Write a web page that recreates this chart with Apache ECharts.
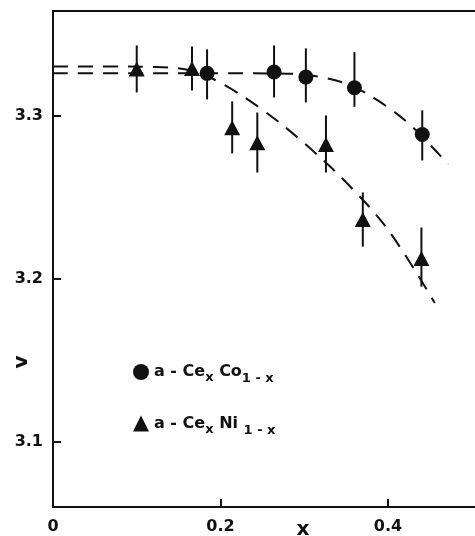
<!DOCTYPE html>
<html>
<head>
<meta charset="utf-8">
<script src="https://cdn.jsdelivr.net/npm/echarts@6/dist/echarts.min.js"></script>
<style>
html,body{margin:0;padding:0;background:#fff;}
#chart{width:475px;height:536px;}
</style>
</head>
<body>
<div id="chart"></div>
<script>
// ---- data ----
var coX   = [0.184, 0.264, 0.302, 0.360, 0.441];
var coV   = [3.3258, 3.3266, 3.3235, 3.3170, 3.2883];
var coTop = [3.3405, 3.3429, 3.3411, 3.3388, 3.3031];
var coBot = [3.3098, 3.3110, 3.3080, 3.3053, 3.2724];

var niX   = [0.100, 0.166, 0.214, 0.244, 0.326, 0.370, 0.440];
var niV   = [3.3285, 3.3287, 3.2924, 3.2833, 3.2822, 3.2362, 3.2123];
var niTop = [3.3429, 3.3423, 3.3086, 3.3018, 3.3000, 3.2528, 3.2313];
var niBot = [3.3141, 3.3153, 3.2767, 3.2650, 3.2650, 3.2196, 3.1951];

// dashed guide curves (points traced along the drawn dashes)
var coCurveX = [0, 0.10, 0.20, 0.28, 0.32, 0.358, 0.398, 0.430, 0.472];
var coCurveV = [3.3258, 3.3258, 3.3258, 3.3256, 3.3235, 3.3178, 3.3057, 3.2926, 3.2700];
var niCurveX = [0, 0.06, 0.12, 0.165, 0.200, 0.250, 0.300, 0.350, 0.400, 0.456];
var niCurveV = [3.3300, 3.3300, 3.3297, 3.3275, 3.3200, 3.3035, 3.2830, 3.2590, 3.2300, 3.1850];

var xTickValues = [0, 0.2, 0.4];
var xTickLabels = ['0', '0.2', '0.4'];
var yTickValues = [3.1, 3.2, 3.3];
var yTickLabels = ['3.1', '3.2', '3.3'];

var xName = 'x';
var yName = 'v';
var seriesNames = ['Co', 'Ni'];

// ---- chart ----
var INK = '#111';
var FONT = 'DejaVu Sans';

function zip(a, b) { return a.map(function (v, i) { return [v, b[i]]; }); }
function bars(x, lo, hi) { return x.map(function (v, i) { return [v, lo[i], hi[i]]; }); }

function errRender(params, api) {
  var p1 = api.coord([api.value(0), api.value(2)]);
  var p2 = api.coord([api.value(0), api.value(1)]);
  return {
    type: 'line',
    shape: { x1: p1[0], y1: p1[1], x2: p2[0], y2: p2[1] },
    style: { stroke: INK, lineWidth: 2 }
  };
}

var richStyles = {
  m: { fontFamily: FONT, fontWeight: 'bold', fontSize: 16, color: INK },
  s: { fontFamily: FONT, fontWeight: 'bold', fontSize: 13, color: INK, padding: [12, 0, 0, 0] },
  s2: { fontFamily: FONT, fontWeight: 'bold', fontSize: 13, color: INK, padding: [14, 0, 0, 0] }
};

var chart = echarts.init(document.getElementById('chart'), null, { renderer: 'canvas' });
chart.setOption({
  backgroundColor: '#fff',
  animation: false,
  grid: { left: 53, right: 0, top: 11, bottom: 29 },
  legend: {
    data: seriesNames,
    orient: 'vertical',
    left: 128,
    top: 359,
    itemWidth: 16,
    itemHeight: 16,
    itemGap: 30,
    selectedMode: false,
    formatter: function (name) {
      return name === 'Co'
        ? '{m|a - Ce}{s|x}{m| Co}{s2|1 - x}'
        : '{m|a - Ce}{s|x}{m| Ni }{s2|1 - x}';
    },
    textStyle: { rich: richStyles }
  },
  xAxis: [{
    type: 'value', min: 0, max: 0.504, position: 'bottom',
    axisLine: { show: true, lineStyle: { color: INK, width: 2 } },
    axisTick: { show: true, inside: true, length: 8, lineStyle: { color: INK, width: 2 }, customValues: xTickValues.slice(1) },
    axisLabel: {
      show: true, margin: 12, color: INK, fontFamily: FONT, fontWeight: 'bold', fontSize: 16,
      customValues: xTickValues,
      formatter: function (v) { var i = xTickValues.indexOf(v); return i >= 0 ? xTickLabels[i] : ''; }
    },
    splitLine: { show: false }
  }, {
    type: 'value', min: 0, max: 0.504, position: 'top',
    axisLine: { show: true, lineStyle: { color: INK, width: 2 } },
    axisTick: { show: false }, axisLabel: { show: false }, splitLine: { show: false }
  }],
  yAxis: {
    type: 'value', min: 3.06, max: 3.364,
    axisLine: { show: true, lineStyle: { color: INK, width: 2 } },
    axisTick: { show: true, inside: true, length: 8, lineStyle: { color: INK, width: 2 }, customValues: yTickValues },
    axisLabel: {
      show: true, margin: 10, color: INK, fontFamily: FONT, fontWeight: 'bold', fontSize: 16,
      customValues: yTickValues,
      formatter: function (v) {
        for (var i = 0; i < yTickValues.length; i++) { if (Math.abs(yTickValues[i] - v) < 1e-6) return yTickLabels[i]; }
        return '';
      }
    },
    splitLine: { show: false }
  },
  graphic: [
    { type: 'text', x: 303, y: 530, style: { text: xName, fill: INK, font: 'bold 20px "DejaVu Sans"', textAlign: 'center', textVerticalAlign: 'middle' } },
    { type: 'text', x: 22, y: 362, rotation: Math.PI / 2, style: { text: yName, fill: INK, font: 'bold 20px "DejaVu Sans"', textAlign: 'center', textVerticalAlign: 'middle' } }
  ],
  series: [
    {
      name: 'coCurve', type: 'line', data: zip(coCurveX, coCurveV), smooth: 0.35, showSymbol: false, symbol: 'none',
      lineStyle: { color: INK, width: 2, type: [15, 10] }, z: 1, silent: true
    },
    {
      name: 'niCurve', type: 'line', data: zip(niCurveX, niCurveV), smooth: 0.35, showSymbol: false, symbol: 'none',
      lineStyle: { color: INK, width: 2, type: [15, 10] }, z: 1, silent: true
    },
    { name: 'coErr', type: 'custom', renderItem: errRender, data: bars(coX, coBot, coTop), encode: { x: 0, y: [1, 2] }, z: 2, silent: true },
    { name: 'niErr', type: 'custom', renderItem: errRender, data: bars(niX, niBot, niTop), encode: { x: 0, y: [1, 2] }, z: 2, silent: true },
    { name: 'Co', type: 'scatter', symbol: 'circle', symbolSize: 15, data: zip(coX, coV), itemStyle: { color: INK, opacity: 1 }, z: 3 },
    { name: 'Ni', type: 'scatter', symbol: 'triangle', symbolSize: [16, 15], data: zip(niX, niV), itemStyle: { color: INK, opacity: 1 }, z: 3 }
  ]
});
</script>
</body>
</html>
